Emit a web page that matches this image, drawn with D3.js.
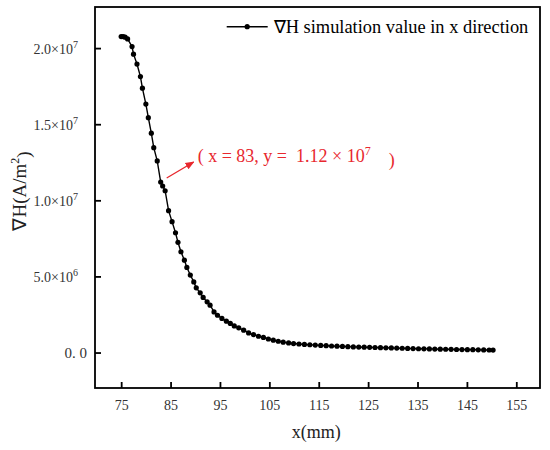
<!DOCTYPE html>
<html>
<head>
<meta charset="UTF-8">
<title>Grad H simulation</title>
<script src="https://d3js.org/d3.v7.min.js"></script>
<style>
    html, body { margin:0; padding:0; background:#fff; }
    svg text { font-family: "Liberation Serif", "Times New Roman", serif; }
</style>
</head>
<body>
<div id="chart"></div>
<script>
    // x position (mm)
    const xs = [75.0, 75.4, 75.8, 76.3, 77.2, 77.5, 78.2, 78.9, 79.3, 80.0, 80.5, 81.1, 81.6, 82.3, 83.0,
        83.4, 83.9, 84.6, 85.3, 86.0, 86.5, 87.1, 87.8, 88.3, 89.0, 89.7, 90.2, 91.0, 91.6, 92.4,
        93.0, 93.8, 94.5, 95.4, 96.3, 97.1, 97.9, 98.8, 99.8, 100.8, 101.8, 102.8, 103.8, 104.8,
        105.8, 106.8, 107.8, 108.9, 109.9, 111.0, 112.1, 113.2, 114.3, 115.4, 116.5, 117.6, 118.7,
        119.8, 120.9, 122.0, 123.1, 124.2, 125.3, 126.4, 127.5, 128.6, 129.7, 130.8, 131.9, 133.0,
        134.1, 135.2, 136.3, 137.4, 138.5, 139.6, 140.7, 141.8, 142.9, 144.0, 145.1, 146.2, 147.3,
        148.4, 149.5, 150.3];
    // gradient of H (A/m^2)
    const ys = [2.076e7, 2.076e7, 2.072e7, 2.060e7, 2.010e7, 1.960e7, 1.895e7, 1.813e7, 1.737e7, 1.632e7,
        1.543e7, 1.441e7, 1.346e7, 1.259e7, 1.120e7, 1.094e7, 1.063e7, 9.32e6, 8.60e6, 7.87e6,
        7.24e6, 6.62e6, 6.07e6, 5.59e6, 5.09e6, 4.64e6, 4.25e6, 3.92e6, 3.62e6, 3.33e6,
        3.11e6, 2.67e6, 2.45e6, 2.24e6, 2.06e6, 1.91e6, 1.75e6, 1.62e6, 1.47e6, 1.29e6,
        1.18e6, 1.07e6, 9.9e5, 8.9e5, 8.1e5, 7.4e5, 6.8e5, 6.3e5, 5.9e5, 5.6e5,
        5.3e5, 5.1e5, 4.9e5, 4.7e5, 4.5e5, 4.3e5, 4.15e5, 4.0e5, 3.85e5, 3.7e5,
        3.6e5, 3.5e5, 3.4e5, 3.3e5, 3.2e5, 3.1e5, 3.0e5, 2.9e5, 2.8e5, 2.7e5,
        2.6e5, 2.5e5, 2.45e5, 2.4e5, 2.3e5, 2.2e5, 2.15e5, 2.1e5, 2.0e5, 1.95e5,
        1.9e5, 1.85e5, 1.8e5, 1.7e5, 1.65e5, 1.6e5];
    const xTicks = [75, 85, 95, 105, 115, 125, 135, 145, 155];
    const yTicks = [0, 5e6, 1e7, 1.5e7, 2e7];
    const yTickText = ["0. 0", "5.0×10|6", "1.0×10|7", "1.5×10|7", "2.0×10|7"];
    const legendLabel = "∇H simulation value in x direction";
    const marked = {x: 83, y: 1.12e7};

    const data = xs.map((x, i) => ({x: x, y: ys[i]}));

    const W = 550, H = 450;
    const margin = {top: 7, right: 10, bottom: 62, left: 95};
    const w = W - margin.left - margin.right,
        h = H - margin.top - margin.bottom;

    const svg = d3.select("#chart").append("svg")
        .attr("width", W).attr("height", H);

    svg.append("defs").append("marker")
        .attr("id", "arr")
        .attr("viewBox", "0 0 10 10")
        .attr("refX", 9).attr("refY", 5)
        .attr("markerWidth", 7).attr("markerHeight", 7)
        .attr("orient", "auto")
        .append("path").attr("d", "M0,1 L10,5 L0,9 Z").attr("fill", "#e8282e");

    const g = svg.append("g").attr("transform", `translate(${margin.left},${margin.top})`);

    const x = d3.scaleLinear().domain([69.7, 159.8]).range([0, w]);
    const y = d3.scaleLinear().domain([-2.33e6, 2.27e7]).range([h, 0]);

    // axes, ticks pointing inward
    const xAxis = g.append("g").attr("transform", `translate(0,${h})`)
        .call(d3.axisBottom(x).tickValues(xTicks).tickSizeInner(-6).tickSizeOuter(0).tickPadding(12));
    xAxis.select(".domain").remove();
    xAxis.selectAll("line").attr("stroke-width", 1.8);
    xAxis.selectAll("text").attr("font-size", 14).attr("fill", "#333")
        .attr("font-family", "'Noto Sans CJK SC', 'Liberation Serif', serif").attr("font-weight", 300);

    const yAxis = g.append("g")
        .call(d3.axisLeft(y).tickValues(yTicks).tickSizeInner(-6).tickSizeOuter(0).tickFormat(""));
    yAxis.select(".domain").remove();
    yAxis.selectAll("line").attr("stroke-width", 1.8);
    yAxis.selectAll(".tick").each(function(d, i) {
        const t = d3.select(this).append("text")
            .attr("fill", "#333").attr("dy", "0.35em");
        const parts = yTickText[i].split("|");
        if (parts.length === 1) {
            t.attr("x", -8).attr("text-anchor", "end").attr("font-size", 15)
                .attr("font-family", "'Noto Sans CJK SC', serif").attr("font-weight", 300)
                .text(parts[0]);
        } else {
            t.attr("x", -17).attr("text-anchor", "end").attr("font-size", 14);
            t.append("tspan").text(parts[0]);
            t.append("tspan").attr("font-size", 10).attr("dy", "-0.6em").text(parts[1]);
        }
    });

    // frame
    g.append("rect").attr("width", w).attr("height", h)
        .attr("fill", "none").attr("stroke", "#000").attr("stroke-width", 1.8);

    // series
    g.append("path").datum(data)
        .attr("fill", "none").attr("stroke", "#000").attr("stroke-width", 1.4)
        .attr("d", d3.line().x(d => x(d.x)).y(d => y(d.y)));
    g.selectAll("circle.pt").data(data).join("circle")
        .attr("class", "pt")
        .attr("cx", d => x(d.x)).attr("cy", d => y(d.y))
        .attr("r", 2.6).attr("fill", "#000");

    // annotation
    const ax = x(marked.x), ay = y(marked.y);
    g.append("line")
        .attr("x1", ax + 6).attr("y1", ay - 4)
        .attr("x2", ax + 33).attr("y2", ay - 20)
        .attr("stroke", "#e8282e").attr("stroke-width", 1.3)
        .attr("marker-end", "url(#arr)");
    const at = g.append("text")
        .attr("x", ax + 37).attr("y", ay - 20)
        .attr("font-size", 18).attr("fill", "#e8282e")
        .attr("xml:space", "preserve");
    at.append("tspan").text(`( x = ${marked.x}, y =  1.12 × 10`);
    at.append("tspan").attr("font-size", 12).attr("dy", "-0.6em").text("7");
    at.append("tspan").attr("dy", "0.6em").text("    )");

    // legend
    const lg = g.append("g").attr("transform", `translate(${226.7 - margin.left},${26.7 - margin.top})`);
    lg.append("line").attr("x1", 0).attr("x2", 41).attr("stroke", "#000").attr("stroke-width", 1.4);
    lg.append("circle").attr("cx", 20.5).attr("r", 2.6).attr("fill", "#000");
    lg.append("text").attr("x", 47).attr("dy", "0.33em").attr("font-size", 18.4).text(legendLabel);

    // axis titles
    svg.append("text")
        .attr("x", margin.left + x(114.5)).attr("y", 438)
        .attr("text-anchor", "middle").attr("font-size", 18).attr("fill", "#222")
        .text("x(mm)");
    const yt = svg.append("text")
        .attr("transform", `translate(26,191) rotate(-90)`)
        .attr("text-anchor", "middle").attr("font-size", 19).attr("fill", "#222");
    yt.append("tspan").text("∇H(A/m");
    yt.append("tspan").attr("font-size", 12).attr("dy", "-0.6em").text("2");
    yt.append("tspan").attr("dy", "0.6em").text(")");
</script>
</body>
</html>
